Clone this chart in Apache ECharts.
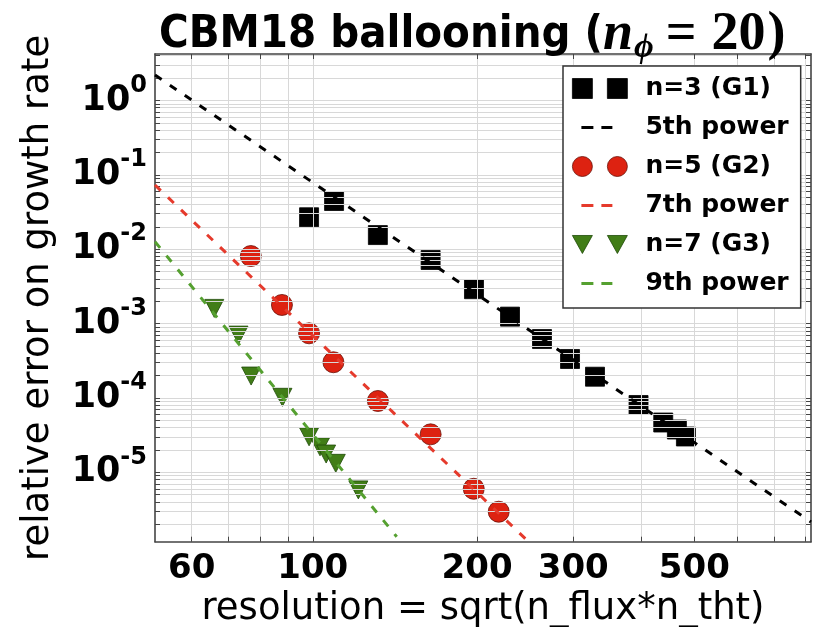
<!DOCTYPE html>
<html><head><meta charset="utf-8">
<script src="https://cdn.jsdelivr.net/npm/echarts@6/dist/echarts.min.js"></script>
<style>html,body{margin:0;padding:0;background:#fff}#c{width:815px;height:627px}</style>
</head><body><div id="c"></div>
<script>
// ---- data ----
const g1X = [98.45, 109.4, 131.6, 164.4, 197.4, 229.8, 263, 296, 328.9, 395.2, 438.6, 464.6, 482.6];
const g1Y = [2.69e-2, 4.45e-2, 1.55e-2, 7.16e-3, 2.9e-3, 1.24e-3, 6.2e-4, 3.34e-4, 1.93e-4, 8.04e-5, 4.67e-5, 3.76e-5, 3.03e-5];
const g2X = [77.0, 87.8, 98.45, 109.1, 131.6, 164.4, 197.2, 219.1];
const g2Y = [8.1e-3, 1.78e-3, 7.4e-4, 3.02e-4, 9.1e-5, 3.24e-5, 6.0e-6, 2.95e-6];
const g3X = [66.0, 73.1, 77.1, 88.0, 98.45, 103.1, 105.8, 110.2, 121.2];
const g3Y = [1.6e-3, 7.0e-4, 1.97e-4, 1.02e-4, 3.0e-5, 2.2e-5, 1.76e-5, 1.32e-5, 5.8e-6];
// dashed fit lines: end points
const fit5X = [51.4, 818];
const fit5Y = [2.2, 2.15e-6];
const fit7X = [51.4, 246.6];
const fit7Y = [7.3e-2, 1.23e-6];
const fit9X = [51.4, 142.5];
const fit9Y = [1.262e-2, 1.36e-6];
// axes
const xMin = 51.4, xMax = 818;
const yMin = 1.166e-6, yMax = 4.22;
const xTickLabels = [60, 100, 200, 300, 500];
const xGridValues = [60, 70, 80, 90, 100, 200, 300, 400, 500, 600, 700, 800];
const yTickLabels = [1e-5, 1e-4, 1e-3, 1e-2, 1e-1, 1];
const yDecades = [1e-6, 1e-5, 1e-4, 1e-3, 1e-2, 1e-1, 1];
const yMantissas = [1, 2, 3, 4, 5, 6, 7, 8, 9];
const legendNames = ['n=3 (G1)', '5th power', 'n=5 (G2)', '7th power', 'n=7 (G3)', '9th power'];

const yGridValues = [];
yDecades.forEach(d => yMantissas.forEach(m => {
  const v = +(m * d).toPrecision(3);
  if (v >= yMin && v <= yMax) yGridValues.push(v);
}));
const zip = (xs, ys) => xs.map((x, i) => [x, ys[i]]);

const BLACK = '#000000', RED = '#dd2211', REDL = '#e53a2c', GREEN = '#417d17', GREENL = '#55a030';
const FONT = 'DejaVu Sans';
const SP = 'M0,0h0.01v0.01h-0.01z M68,20h0.01v0.01h-0.01z ';
const icons = {
  sq: 'path://' + SP + 'M0,0h20v20h-20z M35,0h20v20h-20z',
  ci: 'path://' + SP + 'M0,10a10,10 0 1,0 20,0a10,10 0 1,0 -20,0z M35,10a10,10 0 1,0 20,0a10,10 0 1,0 -20,0z',
  tr: 'path://' + SP + 'M0,1h20l-10,18z M35,1h20l-10,18z',
  da: 'path://' + SP + 'M9,8.5h12v3h-12z M29,8.5h11v3h-11z'
};

const chart = echarts.init(document.getElementById('c'), null, {renderer: 'canvas'});
const axisLineStyle = {color: '#444', width: 1.6};
const gridStyle = {color: '#d8d8d8', width: 1};
const SERIF = 'Liberation Serif';

const option = {
  animation: false,
  backgroundColor: '#fff',
  title: {
    left: 154, top: 1,
    text: '{a|CBM18 ballooning (}{n|n}{s|ϕ}{q|=}{e|20}{p|)}',
    textStyle: {
      rich: {
        a: {fontFamily: '"DejaVu Sans Condensed", "DejaVu Sans"', fontWeight: 'bold', fontSize: 45, color: '#000'},
        n: {fontFamily: SERIF, fontStyle: 'italic', fontSize: 54, color: '#000'},
        s: {fontFamily: SERIF, fontStyle: 'italic', fontSize: 34, color: '#000', padding: [25, 0, 0, 1]},
        q: {fontFamily: SERIF, fontSize: 54, color: '#000', padding: [0, 12, 0, 12]},
        e: {fontFamily: SERIF, fontSize: 54, color: '#000', padding: [0, 2, 0, 3]},
        p: {fontFamily: SERIF, fontSize: 54, color: '#000'}
      }
    }
  },
  grid: {left: 155, right: 4, top: 54, bottom: 85.3, containLabel: false, outerBoundsMode: 'none'},
  legend: {
    left: 563, top: 66, orient: 'vertical', z: 20,
    backgroundColor: '#fff', borderColor: '#333', borderWidth: 1.5, borderRadius: 0,
    padding: [10, 12, 12, 9],
    itemWidth: 68, itemHeight: 20, itemGap: 14, selectedMode: false,
    textStyle: {fontFamily: FONT, fontWeight: 'bold', fontSize: 25, color: '#000'},
    data: [
      {name: legendNames[0], icon: icons.sq, itemStyle: {color: BLACK, borderColor: BLACK, borderWidth: 0.8}},
      {name: legendNames[1], icon: icons.da, itemStyle: {color: BLACK, borderWidth: 0}},
      {name: legendNames[2], icon: icons.ci, itemStyle: {color: RED, borderColor: '#6a1008', borderWidth: 0.8}},
      {name: legendNames[3], icon: icons.da, itemStyle: {color: REDL, borderWidth: 0}},
      {name: legendNames[4], icon: icons.tr, itemStyle: {color: GREEN, borderColor: '#1e4a08', borderWidth: 0.8}},
      {name: legendNames[5], icon: icons.da, itemStyle: {color: GREENL, borderWidth: 0}}
    ]
  },
  xAxis: [{
    type: 'log', logBase: 10, min: xMin, max: xMax, z: 3,
    name: 'resolution = sqrt(n_flux*n_tht)', nameLocation: 'middle', nameGap: 47,
    nameTextStyle: {fontFamily: FONT, fontSize: 37, color: '#000'},
    axisLine: {show: true, lineStyle: axisLineStyle},
    axisTick: {show: true, inside: true, length: 5, customValues: xGridValues, lineStyle: {color: '#444', width: 1}},
    axisLabel: {show: true, customValues: xTickLabels, margin: 10, fontFamily: FONT, fontWeight: 'bold', fontSize: 34, color: '#000',
      formatter: v => String(Math.round(v))},
    splitLine: {show: true, lineStyle: gridStyle},
    minorTick: {show: false}, minorSplitLine: {show: false}
  }, {
    type: 'log', logBase: 10, min: xMin, max: xMax, position: 'top', z: 3,
    axisLine: {show: true, lineStyle: axisLineStyle},
    axisTick: {show: true, inside: true, length: 5, customValues: xGridValues, lineStyle: {color: '#444', width: 1}},
    axisLabel: {show: false}, splitLine: {show: false}
  }],
  yAxis: [{
    type: 'log', logBase: 10, min: yMin, max: yMax, z: 3,
    name: 'relative error on growth rate', nameLocation: 'middle', nameGap: 98,
    nameTextStyle: {fontFamily: FONT, fontSize: 37, color: '#000'},
    axisLine: {show: true, lineStyle: axisLineStyle},
    axisTick: {show: true, inside: true, length: 5, customValues: yGridValues, lineStyle: {color: '#444', width: 1}},
    axisLabel: {show: true, customValues: yTickLabels, margin: 8,
      formatter: v => '{b|10}{s|' + Math.round(Math.log10(v)) + '}',
      rich: {
        b: {fontFamily: FONT, fontWeight: 'bold', fontSize: 35, color: '#000'},
        s: {fontFamily: FONT, fontWeight: 'bold', fontSize: 24, color: '#000', padding: [0, 0, 30, 0]}
      }},
    splitLine: {show: true, lineStyle: gridStyle},
    minorTick: {show: false}, minorSplitLine: {show: false}
  }, {
    type: 'log', logBase: 10, min: yMin, max: yMax, position: 'right', z: 3,
    axisLine: {show: true, lineStyle: axisLineStyle},
    axisTick: {show: true, inside: true, length: 5, customValues: yGridValues, lineStyle: {color: '#444', width: 1}},
    axisLabel: {show: false}, splitLine: {show: false}
  }],
  series: [
    {name: legendNames[0], type: 'scatter', data: zip(g1X, g1Y), symbol: 'rect', symbolSize: 19,
      itemStyle: {color: BLACK, borderColor: BLACK, borderWidth: 0.8, opacity: 1}},
    {name: legendNames[1], type: 'line', data: zip(fit5X, fit5Y), symbol: 'none', clip: true,
      lineStyle: {color: BLACK, width: 3, type: [8, 10]}, itemStyle: {color: BLACK}},
    {name: legendNames[2], type: 'scatter', data: zip(g2X, g2Y), symbol: 'circle', symbolSize: 21,
      itemStyle: {color: RED, borderColor: '#6a1008', borderWidth: 0.8, opacity: 1}},
    {name: legendNames[3], type: 'line', data: zip(fit7X, fit7Y), symbol: 'none', clip: true,
      lineStyle: {color: REDL, width: 3, type: [8, 10]}, itemStyle: {color: REDL}},
    {name: legendNames[4], type: 'scatter', data: zip(g3X, g3Y), symbol: 'triangle', symbolRotate: 180, symbolSize: [19, 18],
      itemStyle: {color: GREEN, borderColor: '#1e4a08', borderWidth: 0.8, opacity: 1}},
    {name: legendNames[5], type: 'line', data: zip(fit9X, fit9Y), symbol: 'none', clip: true,
      lineStyle: {color: GREENL, width: 3, type: [8, 10]}, itemStyle: {color: GREENL}}
  ]
};
chart.setOption(option);
</script>
</body></html>
